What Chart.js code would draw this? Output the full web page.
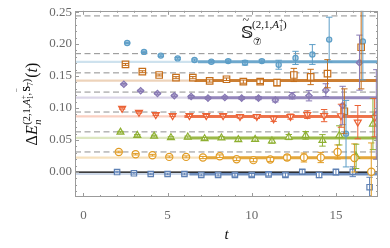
<!DOCTYPE html>
<html><head><meta charset="utf-8">
<script src="https://cdn.jsdelivr.net/npm/chart.js@4.4.1/dist/chart.umd.min.js"></script>
<style>html,body{margin:0;padding:0;background:#fff}</style>
</head><body>
<canvas id="c" width="390" height="248"></canvas>
<script>
// ---- data ----
const tValues = [2,3,4,5,6,7,8,9,10,11,12,13,14,15,16,17];
const seriesOffsets = [0,0.1,0.2,0.3,0.4,0.5,0.6];

const blueSquares    = [0.0000,-0.0020,-0.0030,-0.0030,-0.0030,-0.0045,-0.0045,-0.0045,-0.0045,-0.0036,-0.0045,0.0005,-0.0046,0.0000,0.0005,-0.0237];
const blueSquaresErr = [0.0012,0.0012,0.0012,0.0013,0.0014,0.0015,0.0017,0.0020,0.0022,0.0025,0.0030,0.0035,0.0040,0.0045,0.0077,0.0155];

const orangeCircles    = [0.0314,0.0279,0.0263,0.0237,0.0237,0.0227,0.0248,0.0201,0.0186,0.0196,0.0227,0.0227,0.0227,0.0314,0.0220,0.0005];
const orangeCirclesErr = [0.0012,0.0012,0.0013,0.0014,0.0015,0.0017,0.0020,0.0022,0.0025,0.0030,0.0040,0.0070,0.0080,0.0110,0.0220,0.0450];

const greenTriangles    = [0.0624,0.0573,0.0562,0.0537,0.0547,0.0521,0.0532,0.0506,0.0511,0.0485,0.0547,0.0573,0.0495,0.0573,0.0245,0.0750];
const greenTrianglesErr = [0.0012,0.0013,0.0014,0.0015,0.0016,0.0018,0.0020,0.0025,0.0030,0.0035,0.0040,0.0060,0.0090,0.0150,0.0190,0.0400];

const redTriangles    = [0.0995,0.0934,0.0898,0.0882,0.0882,0.0882,0.0882,0.0867,0.0867,0.0831,0.0867,0.0898,0.0882,0.0880,0.0780,0.0850];
const redTrianglesErr = [0.0012,0.0013,0.0014,0.0015,0.0016,0.0018,0.0020,0.0025,0.0030,0.0040,0.0040,0.0060,0.0095,0.0180,0.0260,0.0300];

const purpleDiamonds    = [0.1373,0.1270,0.1228,0.1192,0.1181,0.1156,0.1166,0.1156,0.1156,0.1125,0.1192,0.1192,0.1280,0.1040,0.1710,0.0900];
const purpleDiamondsErr = [0.0012,0.0012,0.0013,0.0014,0.0015,0.0016,0.0018,0.0020,0.0025,0.0030,0.0050,0.0080,0.0100,0.0300,0.0430,0.0700];

const brownSquares    = [0.1682,0.1568,0.1517,0.1475,0.1475,0.1424,0.1450,0.1413,0.1413,0.1398,0.1517,0.1486,0.1537,0.0950,0.1950,null];
const brownSquaresErr = [0.0015,0.0015,0.0015,0.0016,0.0017,0.0018,0.0020,0.0025,0.0030,0.0050,0.0103,0.0120,0.0220,0.0350,0.0650,null];

const lightBlueCircles    = [0.2017,0.1878,0.1820,0.1776,0.1750,0.1723,0.1734,0.1708,0.1734,0.1677,0.1784,0.1837,0.2070,0.0600,0.2040,null];
const lightBlueCirclesErr = [0.0010,0.0010,0.0012,0.0013,0.0015,0.0017,0.0020,0.0036,0.0020,0.0070,0.0103,0.0155,0.0350,0.0520,0.0600,null];

const fitLevels = [-0.0030,0.0224,0.0533,0.0870,0.1162,0.1430,0.1722];
const fitStarts = [6.3,7.0,6.0,6.0,6.2,6.6,6.8];
const dashedLevels = [0.0314,0.0628,0.0938,0.1250,0.1550,0.1850,0.2440];
const xTickLabels = [0,5,10,15];
const yTickLabels = [0,0.05,0.10,0.15,0.20,0.25];

// ---- styles ----
const X_MIN=-0.5, X_MAX=17.5, Y_MIN=-0.039, Y_MAX=0.252;
const seriesStyles = [
  {vals:blueSquares, errs:blueSquaresErr, color:'#5e81b5', style:'rect', r:3.8, rot:0, fill:'#ffffff'},
  {vals:orangeCircles, errs:orangeCirclesErr, color:'#e19c24', style:'circle', r:3.6, rot:0, fill:'#ffffff'},
  {vals:greenTriangles, errs:greenTrianglesErr, color:'#8fb032', style:'triangle', r:4, rot:0, fill:'#ffffff'},
  {vals:redTriangles, errs:redTrianglesErr, color:'#eb6235', style:'triangle', r:4, rot:180, fill:'#ffffff'},
  {vals:purpleDiamonds, errs:purpleDiamondsErr, color:'#8778b3', style:'rectRot', r:3.2, rot:0, fill:'rgba(135,120,179,0.45)'},
  {vals:brownSquares, errs:brownSquaresErr, color:'#c56e1a', style:'rect', r:4.6, rot:0, fill:'#ffffff'},
  {vals:lightBlueCircles, errs:lightBlueCirclesErr, color:'#5d9ec7', style:'circle', r:2.6, rot:0, fill:'rgba(93,158,199,0.45)'}
];
function rgba(hex,a){const n=parseInt(hex.slice(1),16);return `rgba(${n>>16&255},${n>>8&255},${n&255},${a})`;}

const datasets = [];
seriesStyles.forEach((s,k)=>{
  datasets.push({
    type:'scatter', order:1, clip:0,
    data: tValues.map((t,i)=>({x:t+seriesOffsets[k], y:s.vals[i]})),
    errors: s.errs,
    borderColor:s.color, backgroundColor:s.fill, pointStyle:s.style, pointRadius:s.r,
    pointRotation:s.rot, borderWidth:1.2, pointHoverRadius:s.r
  });
});
// zero line
datasets.push({type:'line', order:2, clip:0, data:[{x:X_MIN,y:0},{x:X_MAX,y:0}], borderColor:'#000', borderWidth:1.2, pointRadius:0});
// fit bands
seriesStyles.forEach((s,k)=>{
  datasets.push({type:'line', order:3, clip:0, data:[{x:fitStarts[k],y:fitLevels[k]},{x:X_MAX,y:fitLevels[k]}],
    borderColor:rgba(s.color,0.85), borderWidth:3, pointRadius:0});
  datasets.push({type:'line', order:4, clip:0, data:[{x:X_MIN,y:fitLevels[k]},{x:X_MAX,y:fitLevels[k]}],
    borderColor:rgba(s.color,0.3), borderWidth:2.2, pointRadius:0});
});
// dashed gray lines
dashedLevels.forEach(v=>{
  datasets.push({type:'line', order:5, clip:0, data:[{x:X_MIN,y:v},{x:X_MAX,y:v}],
    borderColor:'#8f8f8f', borderWidth:1, borderDash:[6,3.5], pointRadius:0});
});

const SERIF = '"Liberation Serif","DejaVu Serif","DejaVu Sans","Noto Sans CJK SC",serif';

const errorBars = {
  id:'errorBars',
  afterDatasetsDraw(chart){
    const {ctx, chartArea:a, scales:{x,y}} = chart;
    ctx.save(); ctx.beginPath(); ctx.rect(a.left,a.top,a.width,a.height); ctx.clip();
    chart.data.datasets.forEach(ds=>{
      if(!ds.errors) return;
      ctx.strokeStyle = ds.borderColor; ctx.lineWidth = 1;
      ds.data.forEach((p,i)=>{
        const e = ds.errors[i]; if(e==null||p.y==null) return;
        const px = x.getPixelForValue(p.x);
        const y1 = y.getPixelForValue(p.y+e), y2 = y.getPixelForValue(p.y-e);
        ctx.beginPath();
        ctx.moveTo(px,y1); ctx.lineTo(px,y2);
        ctx.moveTo(px-3.2,y1); ctx.lineTo(px+3.2,y1);
        ctx.moveTo(px-3.2,y2); ctx.lineTo(px+3.2,y2);
        ctx.stroke();
      });
    });
    ctx.restore();
  }
};

function rich(ctx, segs, x, y, draw){
  let cx = x;
  for(const s of segs){
    ctx.font = (s.it?'italic ':'') + s.size + 'px ' + SERIF;
    if(draw) ctx.fillText(s.text, cx, y + (s.dy||0));
    const w = ctx.measureText(s.text).width;
    if(!s.stay) cx += w + (s.gap||0);
  }
  return cx - x;
}

const frame = {
  id:'frame',
  afterDraw(chart){
    const {ctx, chartArea:a, scales:{x,y}} = chart;
    ctx.save();
    ctx.strokeStyle = '#9b9b9b'; ctx.lineWidth = 1;
    ctx.strokeRect(Math.round(a.left)+0.5, Math.round(a.top)+0.5, Math.round(a.width)-1, Math.round(a.height)-1);
    ctx.beginPath();
    for(let t=0;t<=17;t++){
      const px = Math.round(x.getPixelForValue(t))+0.5, len = t%5===0?4:2;
      ctx.moveTo(px,a.bottom); ctx.lineTo(px,a.bottom-len);
      ctx.moveTo(px,a.top); ctx.lineTo(px,a.top+len);
    }
    for(let k=-3;k<=25;k++){
      const py = Math.round(y.getPixelForValue(k*0.01))+0.5, len = k%5===0?4:2;
      ctx.moveTo(a.left,py); ctx.lineTo(a.left+len,py);
      ctx.moveTo(a.right,py); ctx.lineTo(a.right-len,py);
    }
    ctx.stroke();

    // x title
    ctx.fillStyle = '#111'; ctx.textBaseline = 'alphabetic'; ctx.textAlign = 'left';
    ctx.font = 'italic 15px ' + SERIF;
    const tw = ctx.measureText('t').width;
    ctx.fillText('t', (a.left+a.right)/2 - tw/2, 239);

    // y title (rotated)
    const ysegs = [
      {text:'Δ', size:16}, {text:'E', size:16, it:true, gap:0.5},
      {text:'n', size:10.5, it:true, dy:4, stay:true},
      {text:'(2,1,', size:10.5, dy:-7}, {text:'A', size:10.5, it:true, dy:-7},
      {text:'+', size:7.5, dy:-11, stay:true}, {text:'1', size:7.5, dy:-4.5},
      {text:',', size:10.5, dy:-7, gap:1},
      {text:'S', size:10.5, dy:-7, stay:true}, {text:'‾', size:9, dy:-14, stay:true}, {text:'S', size:10.5, dy:-7},
      {text:'7', size:7.5, dy:-4.5},
      {text:')', size:10.5, dy:-7, gap:1},
      {text:'(', size:16}, {text:'t', size:16, it:true}, {text:')', size:16}
    ];
    ctx.save();
    ctx.translate(37, 104); ctx.rotate(-Math.PI/2);
    const W = rich(ctx, ysegs, 0, 0, false);
    rich(ctx, ysegs, -W/2, 0, true);
    ctx.restore();

    // annotation
    ctx.font = '17px ' + SERIF;
    ctx.fillText('𝕊', 241, 38);
    ctx.font = '12px ' + SERIF;
    ctx.fillText('~', 242.5, 24);
    rich(ctx, [
      {text:'(2,1,', size:11}, {text:'A', size:11, it:true},
      {text:'+', size:8, dy:-5, stay:true}, {text:'1', size:8, dy:3},
      {text:')', size:11, gap:0}
    ], 252, 28, true);
    ctx.font = '10px ' + SERIF;
    ctx.fillText('⑦', 253, 45);
    ctx.restore();
  }
};

new Chart(document.getElementById('c'), {
  type:'scatter',
  data:{datasets},
  options:{
    responsive:false, animation:false,
    layout:{padding:{left:0,right:12,top:10,bottom:0}},
    plugins:{legend:{display:false}, tooltip:{enabled:false}},
    scales:{
      x:{type:'linear', min:X_MIN, max:X_MAX,
        grid:{display:false, drawTicks:false}, border:{display:false},
        afterBuildTicks:s=>{ s.ticks = xTickLabels.map(v=>({value:v})); },
        afterFit:s=>{ s.height = 51; },
        ticks:{font:{family:SERIF,size:13}, color:'#6a6a6a', padding:11, maxRotation:0, autoSkip:false,
          callback:v=>String(v)}},
      y:{type:'linear', min:Y_MIN, max:Y_MAX,
        grid:{display:false, drawTicks:false}, border:{display:false},
        afterBuildTicks:s=>{ s.ticks = yTickLabels.map(v=>({value:v})); },
        afterFit:s=>{ s.width = 75; },
        ticks:{font:{family:SERIF,size:13}, color:'#6a6a6a', padding:3, autoSkip:false,
          callback:v=>Number(v).toFixed(2)}}
    }
  },
  plugins:[errorBars, frame]
});
</script>
</body></html>
